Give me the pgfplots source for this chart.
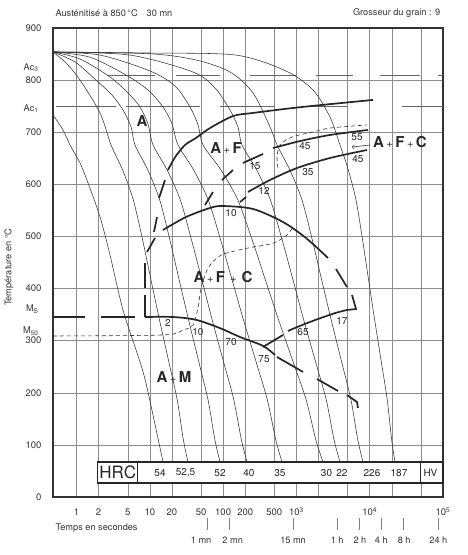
\documentclass[border=0pt]{standalone}
\usepackage{fontspec}
\setmainfont{TeX Gyre Heros}
\usepackage{pgfplots}
\pgfplotsset{compat=1.18}
\tikzset{
  cool/.style={black!80, line width=0.55pt, smooth, mark=none},
  thk/.style={black!85, line width=1.7pt, mark=none},
  lbl/.style={font=\fontsize{10}{10}\selectfont, text=black!85},
  reg/.style={font=\fontsize{15}{15}\selectfont\bfseries, text=black!85},
  sm/.style={font=\fontsize{9.2}{10}\selectfont, text=black!80},
  tm/.style={black!50, line width=0.5pt},
}
\begin{document}
\begin{tikzpicture}[x=1pt,y=1pt]
\useasboundingbox (0,0) rectangle (467,555);
\begin{axis}[
  at={(53pt,58pt)}, anchor=south west,
  width=390pt, height=469pt, scale only axis,
  xmin=-0.321, xmax=5, ymin=0, ymax=900,
  clip=false,
  axis line style={line width=1.4pt, black!80},
  xtick={0,0.30103,0.69897,1,1.30103,1.69897,2,2.30103,2.69897,3,3.30103,3.69897,4,4.30103,4.69897},
  xticklabels={1,2,5,10,20,50,100,200,500,10\textsuperscript{3},,,10\textsuperscript{4},,},
  extra x ticks={5}, extra x tick labels={10\textsuperscript{5}}, extra x tick style={grid=none},
  ytick={0,100,...,900},
  grid=major, grid style={black!45, line width=0.5pt},
  major tick length=0pt,
  tick label style={font=\fontsize{9.5}{11}\selectfont, text=black!80},
  /pgf/number format/assume math mode=true,
  xticklabel style={anchor=base, yshift=-19pt},
  yticklabel style={xshift=-8pt},
]
% Ac3 and Ac1 lines
\addplot[black!60, line width=0.6pt] coordinates {(0.43,810) (1.07,810)};
\addplot[black!60, line width=0.6pt] coordinates {(1.357,810) (1.958,810)};
\addplot[black!60, line width=0.6pt] coordinates {(2.367,810) (2.994,810)};
\addplot[black!60, line width=0.6pt] coordinates {(3.267,810) (3.770,810)};
\addplot[black!60, line width=0.6pt] coordinates {(4.141,810) (4.686,810)};
\addplot[black!60, line width=0.6pt] coordinates {(4.932,810) (5.0,810)};
\addplot[black!60, line width=0.6pt] coordinates {(-0.280,750) (0.539,750)};
\addplot[black!60, line width=0.6pt] coordinates {(0.675,750) (1.685,750)};
\addplot[black!60, line width=0.6pt] coordinates {(1.958,750) (2.708,750)};
\addplot[black!60, line width=0.6pt] coordinates {(3.226,750) (3.690,750)};
\addplot[black!60, line width=0.6pt] coordinates {(4.441,750) (5.0,750)};

% cooling curves
\addplot[cool] coordinates {(-0.321,733) (-0.184,704.3) (-0.089,675.5) (0.048,641) (0.157,602.6) (0.321,537.3) (0.457,464.4) (0.566,397.2) (0.662,345.4) (0.880,253.3) (0.975,201.5) (1.180,67.2)};
\addplot[cool] coordinates {(-0.321,854) (-0.143,832.9) (0.048,800) (0.321,736.9) (0.471,675.5) (0.629,627.5) (0.775,570) (0.902,493.2) (1.016,416.4) (1.132,339.7) (1.269,253.3) (1.374,186.1) (1.458,109.4) (1.521,67.2)};
\addplot[cool] coordinates {(-0.321,854) (-0.020,834.8) (0.266,800) (0.484,771.4) (0.634,742.6) (0.744,710) (0.798,675.5) (0.973,627.5) (1.135,570) (1.274,493.2) (1.401,416.4) (1.529,339.7) (1.679,253.3) (1.795,186.1) (1.888,109.4) (1.958,67.2)};
\addplot[cool] coordinates {(-0.321,854) (0.048,840.5) (0.457,806) (0.703,775.3) (0.866,748.4) (0.975,715.8) (1.044,675.5) (1.236,627.5) (1.416,570) (1.569,493.2) (1.711,416.4) (1.851,339.7) (2.018,253.3) (2.146,186.1) (2.250,109.4) (2.326,67.2)};
\addplot[cool] coordinates {(-0.321,854) (0.184,844) (0.675,809.8) (0.975,781) (1.180,748.4) (1.303,715.8) (1.385,675.5) (1.598,627.5) (1.797,570) (1.966,493.2) (2.123,416.4) (2.278,339.7) (2.463,253.3) (2.604,186.1) (2.719,109.4) (2.804,67.2)};
\addplot[cool] coordinates {(-0.321,854) (0.321,848) (1.003,817.5) (1.344,788.7) (1.548,748.4) (1.658,713.9) (1.726,675.5) (1.971,627.5) (2.201,570) (2.397,493.2) (2.577,416.4) (2.757,339.7) (2.970,253.3) (3.134,186.1) (3.265,109.4) (3.363,67.2)};
\addplot[cool] coordinates {(-0.321,854) (0.730,848) (1.589,815.6) (1.889,784.9) (2.094,742.6) (2.203,710) (2.258,675.5) (2.458,627.5) (2.645,570) (2.806,493.2) (2.954,416.4) (3.100,339.7) (3.274,253.3) (3.408,186.1) (3.514,109.4) (3.595,67.2)};
\addplot[cool] coordinates {(-0.321,854) (1.003,850.5) (1.630,838.6) (2.094,815.6) (2.408,775.3) (2.640,710) (2.735,675.5) (2.911,627.5) (3.076,570) (3.217,493.2) (3.345,416.4) (3.475,339.7) (3.628,253.3) (3.745,186.1) (3.838,109.4) (3.909,67.2)};
\addplot[cool] coordinates {(-0.321,854) (1.003,852) (2.176,848) (2.858,817.5) (3.226,781) (3.458,729.2) (3.595,675.5) (3.708,627.5) (3.813,570) (3.903,493.2) (3.985,416.4) (4.068,339.7) (4.165,253.3) (4.240,186.1) (4.300,109.4) (4.345,67.2)};

% ferrite start
\addplot[thk] coordinates {(0.934,345.4) (0.934,387.6)};
\addplot[thk] coordinates {(0.934,401) (0.934,449)};
\addplot[thk, smooth] coordinates {(0.962,470) (1.030,487) (1.071,497)};
\addplot[thk] coordinates {(1.057,508.5) (1.098,537)};
\addplot[thk] coordinates {(1.126,574) (1.207,608)};
\addplot[thk, smooth] coordinates {(1.248,627.5) (1.344,652) (1.480,675.5) (1.630,689) (1.821,708) (2.135,731) (2.408,737) (3.049,748) (4.045,762)};
% pearlite start
\addplot[thk] coordinates {(1.753,560.4) (1.862,585.3)};
\addplot[thk] coordinates {(1.985,608.3) (2.135,627.5)};
\addplot[thk, smooth] coordinates {(2.271,641) (2.408,649.6) (2.544,658.2)};
\addplot[thk, smooth] coordinates {(2.681,669.7) (3.049,683) (3.458,694.7) (3.977,704.3)};
% pearlite end
\addplot[thk] coordinates {(2.231,566) (2.313,575.7)};
\addplot[thk, smooth] coordinates {(2.340,585.3) (2.640,608.3) (3.008,631.3) (3.458,650.5) (3.963,665.9)};
% bainite start
\addplot[thk, smooth] coordinates {(1.180,512.4) (1.494,537.3) (1.821,554.6) (1.999,558.4) (2.408,552.7) (2.817,527.7) (3.131,497) (3.431,458.6)};
\addplot[thk] coordinates {(3.540,437.5) (3.690,403)};
\addplot[thk] coordinates {(3.759,387.6) (3.813,360.8) (3.690,358.9)};
% bainite end
\addplot[thk, smooth] coordinates {(3.690,358.9) (3.527,352.9) (3.254,339.5) (3.008,326) (2.886,318.6)};
\addplot[thk] coordinates {(2.817,310.9) (2.544,287.9)};
% Ms
\addplot[thk] coordinates {(-0.321,345.4) (0.116,345.4)};
\addplot[thk] coordinates {(0.334,345.4) (0.798,345.4)};
\addplot[thk, smooth] coordinates {(0.934,345.4) (1.316,345.4) (1.630,340) (1.958,324) (2.231,307) (2.544,290) (2.708,272.5)};
\addplot[thk] coordinates {(2.735,268.7) (3.090,240)};
\addplot[thk] coordinates {(3.281,226.4) (3.568,203.4)};
\addplot[thk] coordinates {(3.690,195.7) (3.827,182.3) (3.840,170.8)};
% M50 and thin dashed curves
\addplot[black!80, line width=0.6pt, dash pattern=on 4pt off 3pt, smooth, mark=none] coordinates {(-0.321,309) (1.180,311) (1.453,320.5) (1.589,330) (1.657,362.7) (1.699,401) (1.794,439) (1.971,464) (2.312,477) (2.681,487) (2.872,502.8) (2.954,518.7)};
\addplot[black!80, line width=0.6pt, dash pattern=on 4pt off 3pt, smooth, mark=none] coordinates {(2.749,631.4) (2.735,650.5) (2.776,675.5) (2.940,690.8) (3.226,700.4) (3.458,708) (3.963,714)};

% arrow
\draw[->, line width=0.6pt, black!80] (axis cs:4.004,675.5) -- (axis cs:3.759,671.6);

% curve labels
\node[lbl] at (axis cs:1.248,334) {2};
\node[lbl] at (axis cs:1.657,317) {10};
\node[lbl] at (axis cs:2.108,297) {70};
\node[lbl] at (axis cs:2.558,265) {75};
\node[lbl] at (axis cs:2.108,545) {10};
\node[lbl] at (axis cs:2.435,635) {15};
\node[lbl] at (axis cs:2.558,587) {12};
\node[lbl] at (axis cs:3.117,673.6) {45};
\node[lbl] at (axis cs:3.158,623.7) {35};
\node[lbl] at (axis cs:3.827,691) {55};
\node[lbl] at (axis cs:3.840,648.6) {45};
\node[lbl] at (axis cs:3.090,316.6) {65};
\node[lbl] at (axis cs:3.622,337.7) {17};

% region labels
\node[reg] at (axis cs:0.893,721.5) {A};
\node[reg] at (axis cs:2.04,670) {A\,{\mdseries\fontsize{11}{11}\selectfont+}\,F};
\node[reg] at (axis cs:4.413,681) {A\,{\mdseries\fontsize{11}{11}\selectfont+}\,F\,{\mdseries\fontsize{11}{11}\selectfont+}\,C};
\node[reg] at (axis cs:1.999,422) {A\,{\mdseries\fontsize{11}{11}\selectfont+}\,F\,\,{\mdseries\fontsize{11}{11}\selectfont+}\,\,C};
\node[reg] at (axis cs:1.33,230) {A\,{\mdseries\fontsize{11}{11}\selectfont+}\,M};

% hardness table
\draw[line width=1.3pt, black!85, fill=white] (axis cs:0.29,27) rectangle (axis cs:5,67);
\draw[line width=1.1pt, black!85] (axis cs:0.835,27) -- (axis cs:0.835,67);
\draw[line width=1.1pt, black!85] (axis cs:4.699,27) -- (axis cs:4.699,67);
\node[font=\fontsize{17}{17}\selectfont, text=black!85] at (axis cs:0.5625,47) {HRC};
\node[lbl] at (axis cs:1.139,46) {54};
\node[lbl] at (axis cs:1.487,46) {52,5};
\node[lbl] at (axis cs:1.958,46) {52};
\node[lbl] at (axis cs:2.353,46) {40};
\node[lbl] at (axis cs:2.776,46) {35};
\node[lbl] at (axis cs:3.411,46) {30};
\node[lbl] at (axis cs:3.622,46) {22};
\node[lbl] at (axis cs:4.031,46) {226};
\node[lbl] at (axis cs:4.400,46) {187};
\node[lbl] at (axis cs:4.829,46) {HV};

% y-side special labels
\node[sm, anchor=east] at (axis cs:-0.471,824) {Ac\textsubscript{3}};
\node[sm, anchor=east] at (axis cs:-0.471,745.5) {Ac\textsubscript{1}};
\node[sm, anchor=east] at (axis cs:-0.471,360) {M\textsubscript{S}};
\node[sm, anchor=east] at (axis cs:-0.471,318.5) {M\textsubscript{50}};

% time markers
\draw[tm] (axis cs:1.778,-40) -- (axis cs:1.778,-63);
\draw[tm] (axis cs:2.079,-40) -- (axis cs:2.079,-63);
\draw[tm] (axis cs:2.954,-40) -- (axis cs:2.954,-63);
\draw[tm] (axis cs:3.556,-40) -- (axis cs:3.556,-63);
\draw[tm] (axis cs:3.857,-40) -- (axis cs:3.857,-63);
\draw[tm] (axis cs:4.158,-40) -- (axis cs:4.158,-63);
\draw[tm] (axis cs:4.459,-40) -- (axis cs:4.459,-63);
\draw[tm] (axis cs:4.937,-40) -- (axis cs:4.937,-63);
\node[sm] at (axis cs:1.70,-83) {1 mn};
\node[sm] at (axis cs:2.13,-83) {2 mn};
\node[sm] at (axis cs:2.954,-83) {15 mn};
\node[sm] at (axis cs:3.556,-83) {1 h};
\node[sm] at (axis cs:3.867,-83) {2 h};
\node[sm] at (axis cs:4.158,-83) {4 h};
\node[sm] at (axis cs:4.47,-83) {8 h};
\node[sm] at (axis cs:4.937,-83) {24 h};
\node[sm, anchor=west] at (axis cs:-0.334,-59.5) {Temps en secondes};

% titles
\node[sm, anchor=west] at (axis cs:-0.334,929) {Austénitisé à 850\,°C\hspace{9pt}30 mn};
\node[sm, anchor=east] at (axis cs:5.01,928) {Grosseur du grain : 9};
\node[sm, rotate=90] at (axis cs:-0.921,441) {Température en °C};
\end{axis}
\end{tikzpicture}
\end{document}
